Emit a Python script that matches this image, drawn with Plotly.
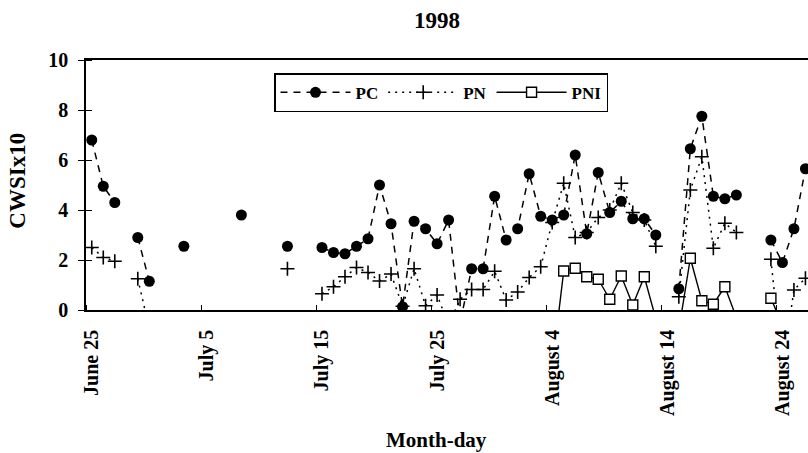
import pandas as pd
import plotly.graph_objects as go

# Observation days (1998) and CWSI x10 for each treatment; None = no reading that day
dates = [
    "06-25", "06-26", "06-27", "06-29", "06-30", "07-03", "07-08", "07-12",
    "07-15", "07-16", "07-17", "07-18", "07-19", "07-20", "07-21", "07-22",
    "07-23", "07-24", "07-25", "07-26", "07-27", "07-28", "07-29", "07-30",
    "07-31", "08-01", "08-02", "08-03", "08-04", "08-05", "08-06", "08-07",
    "08-08", "08-09", "08-10", "08-11", "08-12", "08-13", "08-15", "08-16",
    "08-17", "08-18", "08-19", "08-20", "08-23", "08-24", "08-25", "08-26",
]
pc = [
    6.8, 4.95, 4.3, 2.9, 1.15, 2.55, 3.8, 2.55,
    2.5, 2.3, 2.25, 2.55, 2.85, 5.0, 3.45, 0.13,
    3.55, 3.25, 2.65, 3.6, -0.5, 1.65, 1.65, 4.55,
    2.8, 3.25, 5.45, 3.75, 3.6, 3.8, 6.2, 3.05,
    5.5, 3.9, 4.35, 3.65, 3.65, 3.0, 0.85, 6.45,
    7.75, 4.55, 4.45, 4.6, 2.8, 1.9, 3.25, 5.65,
]
pn = [
    2.5, 2.1, 1.95, 1.25, -0.75, None, None, 1.65,
    0.65, 0.93, 1.33, 1.7, 1.5, 1.16, 1.44, 0.15,
    1.65, 0.17, 0.6, -0.6, 0.43, 0.82, 0.82, 1.55,
    0.4, 0.72, 1.3, 1.73, 3.5, 5.07, 2.9, 3.1,
    3.7, 4.0, 5.07, 3.9, 3.6, 2.55, 0.53, 4.8,
    6.13, 2.47, 3.47, 3.1, 2.03, -2.4, 0.8, 1.27,
]
pni = [
    None, None, None, None, None, None, None, None,
    None, None, None, None, None, None, None, None,
    None, None, None, None, None, None, None, None,
    None, None, None, None, -2.3, 1.56, 1.67, 1.33,
    1.23, 0.43, 1.36, 0.2, 1.33, -0.35, -0.8, 2.07,
    0.37, 0.23, 0.93, -0.3, 0.47, -0.6, None, None,
]

tick_dates = ["06-25", "07-05", "07-15", "07-25", "08-04", "08-14", "08-24"]
tick_labels = ["June 25", "July 5", "July 15", "July 25", "August 4", "August 14", "August 24"]
y_ticks = [0, 2, 4, 6, 8, 10]

YEAR = "1998-"
FONT = "Liberation Serif, Times New Roman, serif"

# Daily frame so that missing days break the lines; each reading sits mid-day
df = pd.DataFrame({"PC": pc, "PN": pn, "PNI": pni},
                  index=pd.to_datetime([YEAR + d for d in dates]))
full = pd.date_range(df.index.min(), df.index.max(), freq="D")
df = df.reindex(full).astype(float)
x = df.index + pd.Timedelta(hours=12)

def col(name):
    return [None if pd.isna(v) else v for v in df[name]]

fig = go.Figure()
fig.add_trace(go.Scatter(
    x=x, y=col("PC"), name="PC", mode="lines+markers",
    line=dict(color="black", width=1.5, dash="7px,6px"),
    marker=dict(symbol="circle", size=11, color="black"),
))
fig.add_trace(go.Scatter(
    x=x, y=col("PN"), name="PN", mode="lines+markers",
    line=dict(color="black", width=1.5, dash="2px,5px"),
    marker=dict(symbol="cross-thin", size=10, color="black",
                line=dict(color="black", width=1.6)),
))
fig.add_trace(go.Scatter(
    x=x, y=col("PNI"), name="PNI", mode="lines+markers",
    line=dict(color="black", width=1.4),
    marker=dict(symbol="square", size=10, color="white",
                line=dict(color="black", width=1.4)),
))

tick_mid = [pd.Timestamp(YEAR + d) for d in tick_dates]
tick_noon = [t + pd.Timedelta(hours=12) for t in tick_mid]

fig.update_layout(
    width=808, height=453,
    margin=dict(l=86, r=0, t=60, b=143),
    paper_bgcolor="white", plot_bgcolor="white",
    font=dict(family=FONT, color="black", size=18, weight="bold"),
    showlegend=True,
    legend=dict(
        orientation="h", x=0.4917, xanchor="center", y=0.947, yanchor="top",
        bgcolor="white", bordercolor="black", borderwidth=1.5,
        font=dict(family=FONT, size=17, color="black", weight="bold"),
        itemwidth=70,
    ),
    xaxis=dict(
        type="date",
        range=[pd.Timestamp(YEAR + "06-25"), pd.Timestamp(YEAR + "08-26 17:20")],
        tickmode="array", tickvals=tick_noon, ticktext=tick_labels,
        tickangle=-90, ticks="", ticklabelstandoff=10,
        tickfont=dict(family=FONT, size=20, color="black", weight="bold"),
        showline=True, linecolor="black", linewidth=1.5, mirror=True,
        showgrid=False, zeroline=False,
        minor=dict(tickmode="array", tickvals=tick_mid, ticks="inside",
                   ticklen=5, tickcolor="black", tickwidth=1),
    ),
    yaxis=dict(
        range=[0, 10], tickmode="array", tickvals=y_ticks,
        ticks="outside", ticklen=6, tickcolor="black", tickwidth=1,
        ticklabelstandoff=6,
        tickfont=dict(family=FONT, size=20, color="black", weight="bold"),
        showline=True, linecolor="black", linewidth=1.5, mirror=False,
        showgrid=False, zeroline=False,
        minor=dict(tickmode="array", tickvals=y_ticks, ticks="inside",
                   ticklen=6, tickcolor="black", tickwidth=1),
    ),
    annotations=[
        dict(text="1998", xref="paper", yref="paper", x=0.486, y=1.158,
             xanchor="center", yanchor="middle", showarrow=False,
             font=dict(family=FONT, size=23, color="black", weight="bold")),
        dict(text="CWSIx10", xref="paper", yref="paper", x=-0.096, y=0.516,
             xanchor="center", yanchor="middle", textangle=-90, showarrow=False,
             font=dict(family=FONT, size=23, color="black", weight="bold")),
        dict(text="Month-day", xref="paper", yref="paper", x=0.486, y=-0.52,
             xanchor="center", yanchor="middle", showarrow=False,
             font=dict(family=FONT, size=21, color="black", weight="bold")),
    ],
)

fig.write_html("out.html")
